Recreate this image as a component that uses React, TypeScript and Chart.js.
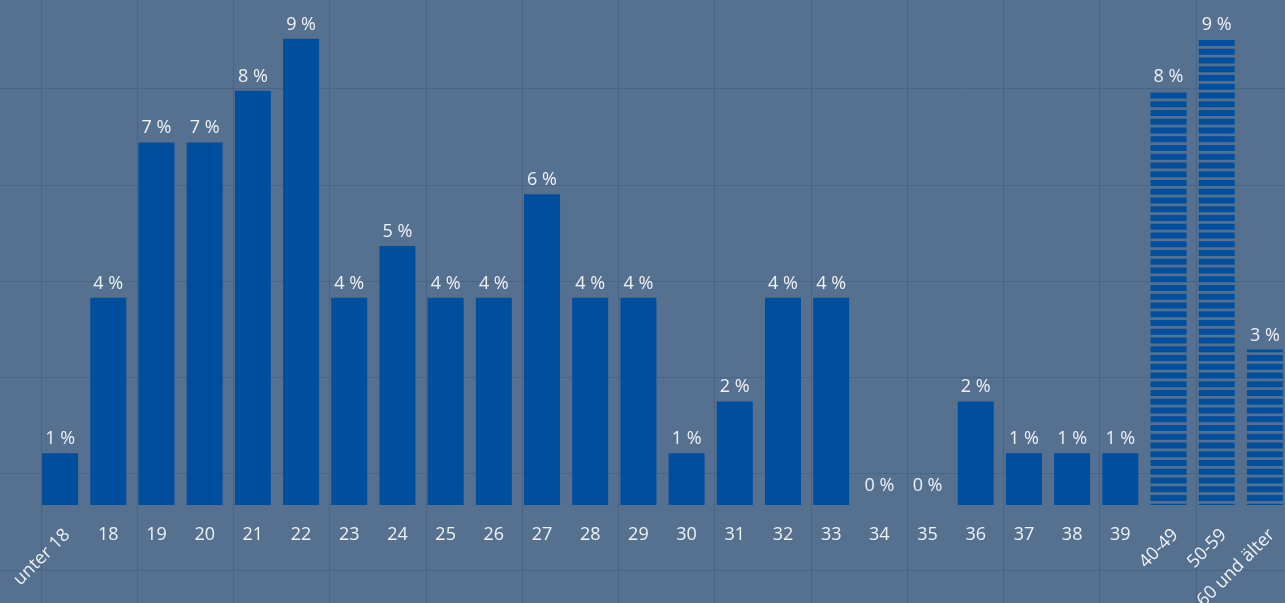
import React, { useEffect, useRef } from "react";
import { Chart, registerables } from "chart.js";

Chart.register(...registerables);

// ---- data ----
const categories = [
  "unter 18", "18", "19", "20", "21", "22", "23", "24", "25", "26", "27", "28", "29",
  "30", "31", "32", "33", "34", "35", "36", "37", "38", "39",
  "40-49", "50-59", "60 und älter",
];
const shares = [
  1, 4, 7, 7, 8, 9, 4, 5, 4, 4, 6, 4, 4,
  1, 2, 4, 4, 0, 0, 2, 1, 1, 1,
  8, 9, 3,
];
const rotatedLabels = ["unter 18", "40-49", "50-59", "60 und älter"];
const stripedCategories = ["40-49", "50-59", "60 und älter"];

// ---- styles ----
const BG = "#56718f";
const GRID = "#4a6584";
const BAR = "#004f9e";
const TEXT = "#eef1f5";
const FONT = "18px 'Open Sans', 'Noto Sans', sans-serif";

function makeStripePattern(): CanvasPattern | string {
  const c = document.createElement("canvas");
  c.width = 8;
  c.height = 35;
  const g = c.getContext("2d");
  if (!g) return BAR;
  for (let i = 0; i < 4; i++) {
    g.fillStyle = BAR;
    g.fillRect(0, i * 8.75, 8, 6);
  }
  const p = g.createPattern(c, "repeat");
  if (!p) return BAR;
  try {
    p.setTransform(new DOMMatrix().translate(0, 5));
  } catch (e) {}
  return p;
}

const backgroundPlugin = {
  id: "paperGrid",
  beforeDraw(chart: any) {
    const { ctx, width, height } = chart;
    ctx.save();
    ctx.fillStyle = BG;
    ctx.fillRect(0, 0, width, height);
    ctx.strokeStyle = GRID;
    ctx.lineWidth = 1;
    const cell = 96.25;
    ctx.beginPath();
    for (let x = 40.5; x < width; x += cell) {
      ctx.moveTo(Math.round(x) + 0.5, 0);
      ctx.lineTo(Math.round(x) + 0.5, height);
    }
    for (let y = 88.3 - cell; y < height; y += cell) {
      ctx.moveTo(0, Math.round(y) + 0.5);
      ctx.lineTo(width, Math.round(y) + 0.5);
    }
    ctx.stroke();
    ctx.restore();
  },
};

const labelsPlugin = {
  id: "valueAndAxisLabels",
  afterDatasetsDraw(chart: any) {
    const { ctx } = chart;
    const meta = chart.getDatasetMeta(0);
    const xScale = chart.scales.x;
    const bottom = chart.chartArea.bottom;
    ctx.save();
    ctx.font = FONT;
    ctx.fillStyle = TEXT;
    meta.data.forEach((bar: any, i: number) => {
      const v = shares[i];
      ctx.textAlign = "center";
      ctx.textBaseline = "alphabetic";
      const gap = v === 0 ? 14 : 9;
      ctx.fillText(`${Math.round(v)} %`, bar.x, bar.y - gap);
    });
    categories.forEach((c, i) => {
      const cx = xScale.getPixelForValue(i);
      if (rotatedLabels.includes(c)) {
        ctx.save();
        ctx.translate(cx + 7, bottom + 27);
        ctx.rotate(-Math.PI / 4);
        ctx.textAlign = "right";
        ctx.textBaseline = "middle";
        ctx.fillText(c, 0, 0);
        ctx.restore();
      } else {
        ctx.textAlign = "center";
        ctx.textBaseline = "alphabetic";
        ctx.fillText(c, cx, bottom + 35);
      }
    });
    ctx.restore();
  },
};

export default function App() {
  const ref = useRef<HTMLCanvasElement | null>(null);

  useEffect(() => {
    if (!ref.current) return;
    const stripe = makeStripePattern();
    const colors = categories.map((c) => (stripedCategories.includes(c) ? stripe : BAR));
    const chart = new Chart(ref.current, {
      type: "bar",
      data: {
        labels: categories,
        datasets: [
          {
            data: shares,
            backgroundColor: colors as any,
            borderWidth: 0,
            categoryPercentage: 1,
            barPercentage: 0.747,
          },
        ],
      },
      options: {
        animation: false,
        responsive: false,
        maintainAspectRatio: false,
        devicePixelRatio: 1,
        layout: { padding: { left: 36, right: 1, top: 0, bottom: 98 } },
        plugins: {
          legend: { display: false },
          tooltip: { enabled: false },
        },
        scales: {
          x: { display: false, offset: true },
          y: { display: false, min: 0, max: 9.75 },
        },
      },
      plugins: [backgroundPlugin, labelsPlugin],
    });
    return () => chart.destroy();
  }, []);

  return (
    <div
      style={{
        position: "fixed",
        left: 0,
        top: 0,
        width: 1285,
        height: 603,
        overflow: "hidden",
        background: BG,
      }}
    >
      <canvas ref={ref} width={1290} height={603} style={{ display: "block" }} />
    </div>
  );
}
